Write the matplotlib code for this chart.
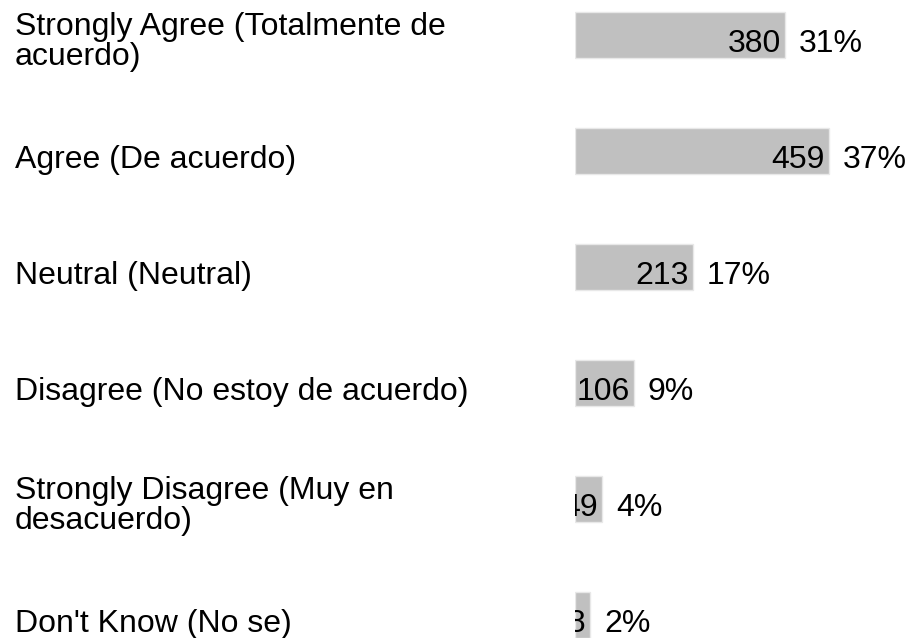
import matplotlib
matplotlib.use('Agg')
import matplotlib.pyplot as plt
import matplotlib.transforms as mtransforms

plt.rcParams['font.family'] = ['Liberation Sans', 'DejaVu Sans']

labels = ['Strongly Agree (Totalmente de\nacuerdo)', 'Agree (De acuerdo)', 'Neutral (Neutral)',
          'Disagree (No estoy de acuerdo)', 'Strongly Disagree (Muy en\ndesacuerdo)', "Don't Know (No se)"]
counts = [380, 459, 213, 106, 49, 28]
pcts = ['31%', '37%', '17%', '9%', '4%', '2%']

fig = plt.figure(figsize=(9.07, 6.38), dpi=100)
ax = fig.add_axes([575 / 907, 0, 332 / 907, 1])
ax.set_xlim(0, 332 / 0.553)
ax.set_ylim(5 + 23 / 116, -35 / 116)
ax.axis('off')

y = list(range(len(counts)))
ax.barh(y, counts, height=46 / 116, color='#c0c0c0', edgecolor='#e8e8e8', linewidth=1)

fs = 23
tr_lab = mtransforms.blended_transform_factory(fig.transFigure, ax.transData)
for i in range(len(counts)):
    yb = i + 17 / 116  # baseline a bit below the bar centre
    if '\n' in labels[i]:
        yl = i + 30 / 116  # baseline of the last line
    else:
        yl = yb
    fig.text(15 / 907, yl, labels[i], transform=tr_lab, fontsize=fs, va='baseline', ha='left',
             linespacing=1.0)
    ax.annotate(str(counts[i]), (counts[i], yb), xytext=(-4, 0), textcoords='offset pixels',
                ha='right', va='baseline', fontsize=fs, clip_on=True)
    ax.annotate(pcts[i], (counts[i], yb), xytext=(14, 0), textcoords='offset pixels',
                ha='left', va='baseline', fontsize=fs, clip_on=True)

fig.savefig('out.png', dpi=100)
